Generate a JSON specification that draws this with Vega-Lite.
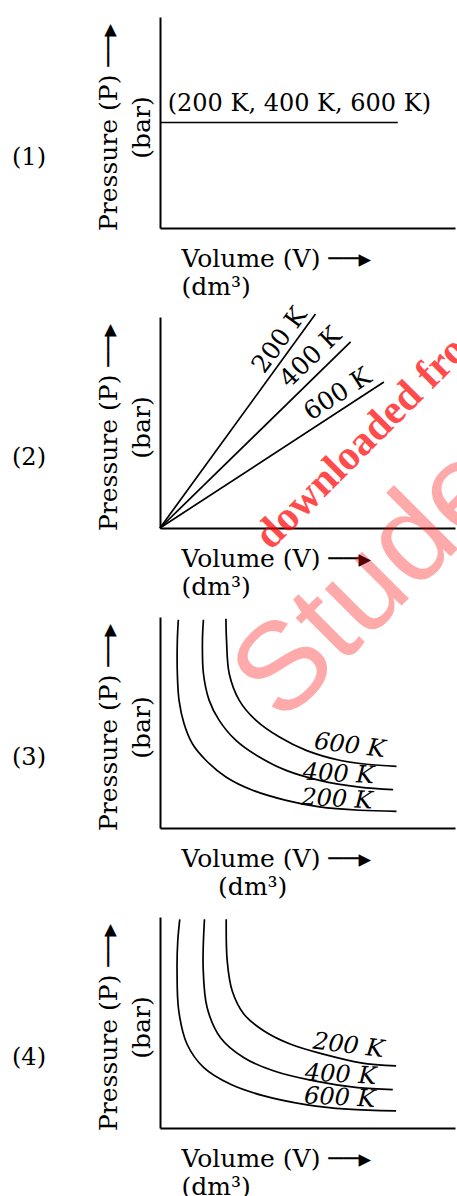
{
  "$schema": "https://vega.github.io/schema/vega-lite/v6.json",
  "padding": {"left": 12, "top": 17, "right": 0, "bottom": 0},
  "background": "white",
  "spacing": 89,
  "bounds": "flush",
  "config": {
    "view": {"stroke": null},
    "font": "DejaVu Serif",
    "axis": {"domainColor": "black", "domainWidth": 2, "ticks": false, "labels": false, "grid": false, "titleFont": "DejaVu Serif", "titleFontSize": 25, "titleFontWeight": "normal", "titleColor": "black"},
    "title": {"font": "DejaVu Serif", "fontSize": 24, "fontWeight": "normal", "color": "black", "orient": "left", "angle": 0, "align": "right", "baseline": "middle", "anchor": "middle", "frame": "group", "offset": 33, "dy": 23},
    "line": {"color": "black", "strokeWidth": 1.7},
    "text": {"font": "DejaVu Serif", "fontSize": 24, "color": "black"}
  },
  "vconcat": [
    {
      "width": 295, "height": 211,
      "title": {"text": "(1)"},
      "encoding": {
        "x": {"field": "V", "type": "quantitative", "scale": {"domain": [0, 100], "nice": false, "zero": false},
              "axis": {"title": ["Volume (V) \u2500\u2500\u25b8", "(dm\u00b3)"], "titleAnchor": "start", "titleAlign": "left", "titleX": 21, "titlePadding": 18, "titleLineHeight": 28}},
        "y": {"field": "P", "type": "quantitative", "scale": {"domain": [0, 100], "nice": false, "zero": false},
              "axis": {"title": ["Pressure (P) \u2500\u2500\u25b8", "(bar)\u00a0\u00a0\u00a0\u00a0\u00a0\u00a0\u00a0\u00a0\u00a0"], "titleAlign": "center", "titleY": 110, "titlePadding": 6, "titleLineHeight": 33}}
      },
      "layer": [
        {"data": {"values": [{"V": 0, "P": 50}, {"V": 80.6, "P": 50}]}, "mark": {"type": "line"}},
        {"data": {"values": [{"V": 2.6, "P": 55.5, "label": "(200 K, 400 K, 600 K)"}]},
         "mark": {"type": "text", "align": "left", "baseline": "alphabetic", "fontSize": 24},
         "encoding": {"text": {"field": "label"}}}
      ]
    },
    {
      "width": 295, "height": 211,
      "title": {"text": "(2)"},
      "encoding": {
        "x": {"field": "V", "type": "quantitative", "scale": {"domain": [0, 100], "nice": false, "zero": false},
              "axis": {"title": ["Volume (V) \u2500\u2500\u25b8", "(dm\u00b3)"], "titleAnchor": "start", "titleAlign": "left", "titleX": 21, "titlePadding": 18, "titleLineHeight": 28}},
        "y": {"field": "P", "type": "quantitative", "scale": {"domain": [0, 100], "nice": false, "zero": false},
              "axis": {"title": ["Pressure (P) \u2500\u2500\u25b8", "(bar)\u00a0\u00a0\u00a0\u00a0\u00a0\u00a0\u00a0\u00a0\u00a0"], "titleAlign": "center", "titleY": 110, "titlePadding": 6, "titleLineHeight": 33}}
      },
      "layer": [
        {"data": {"values": [
          {"T": "200 K", "V": 0, "P": 0}, {"T": "200 K", "V": 52.7, "P": 101.4},
          {"T": "400 K", "V": 0, "P": 0}, {"T": "400 K", "V": 64.6, "P": 88.2},
          {"T": "600 K", "V": 0, "P": 0}, {"T": "600 K", "V": 75.9, "P": 69.2}]},
         "mark": {"type": "line"}, "encoding": {"detail": {"field": "T"}}},
        {"data": {"values": [{"V": 40.5, "P": 89.1, "label": "200 K"}]},
         "mark": {"type": "text", "angle": -54, "align": "center", "baseline": "middle", "fontSize": 25}, "encoding": {"text": {"field": "label"}}},
        {"data": {"values": [{"V": 51.0, "P": 81.0, "label": "400 K"}]},
         "mark": {"type": "text", "angle": -44, "align": "center", "baseline": "middle", "fontSize": 25}, "encoding": {"text": {"field": "label"}}},
        {"data": {"values": [{"V": 60.2, "P": 63.5, "label": "600 K"}]},
         "mark": {"type": "text", "angle": -33, "align": "center", "baseline": "middle", "fontSize": 25}, "encoding": {"text": {"field": "label"}}},
        {"data": {"values": [{"V": 37.6, "P": -10.9, "label": "downloaded fro"}]},
         "mark": {"type": "text", "angle": -45, "align": "left", "baseline": "alphabetic", "font": "Liberation Sans Narrow", "fontWeight": "bold", "fontSize": 42, "color": "#ff0000", "opacity": 0.7},
         "encoding": {"text": {"field": "label"}}}
      ]
    },
    {
      "width": 295, "height": 211,
      "title": {"text": "(3)"},
      "encoding": {
        "x": {"field": "V", "type": "quantitative", "scale": {"domain": [0, 100], "nice": false, "zero": false},
              "axis": {"title": ["Volume (V) \u2500\u2500\u25b8", "\u2800\u2800(dm\u00b3)"], "titleAnchor": "start", "titleAlign": "left", "titleX": 21, "titlePadding": 18, "titleLineHeight": 28}},
        "y": {"field": "P", "type": "quantitative", "scale": {"domain": [0, 100], "nice": false, "zero": false},
              "axis": {"title": ["Pressure (P) \u2500\u2500\u25b8", "(bar)\u00a0\u00a0\u00a0\u00a0\u00a0\u00a0\u00a0\u00a0\u00a0"], "titleAlign": "center", "titleY": 110, "titlePadding": 6, "titleLineHeight": 33}}
      },
      "layer": [
        {"data": {"values": [
          {"T": "200 K", "i": 0, "V": 6.22, "P": 98.7}, {"T": "200 K", "i": 1, "V": 5.88, "P": 89.0}, {"T": "200 K", "i": 2, "V": 5.88, "P": 73.2},
          {"T": "200 K", "i": 3, "V": 6.46, "P": 60.5}, {"T": "200 K", "i": 4, "V": 8.16, "P": 49.4}, {"T": "200 K", "i": 5, "V": 10.99, "P": 39.9},
          {"T": "200 K", "i": 6, "V": 15.54, "P": 32.1}, {"T": "200 K", "i": 7, "V": 22.35, "P": 24.2}, {"T": "200 K", "i": 8, "V": 31.39, "P": 17.9},
          {"T": "200 K", "i": 9, "V": 42.76, "P": 13.1}, {"T": "200 K", "i": 10, "V": 54.08, "P": 10.0}, {"T": "200 K", "i": 11, "V": 67.69, "P": 8.4},
          {"T": "200 K", "i": 12, "V": 80.17, "P": 7.9},
          {"T": "400 K", "i": 0, "V": 14.73, "P": 98.7}, {"T": "400 K", "i": 1, "V": 14.39, "P": 89.0}, {"T": "400 K", "i": 2, "V": 14.73, "P": 73.1},
          {"T": "400 K", "i": 3, "V": 16.67, "P": 60.5}, {"T": "400 K", "i": 4, "V": 20.07, "P": 51.0}, {"T": "400 K", "i": 5, "V": 25.75, "P": 41.5},
          {"T": "400 K", "i": 6, "V": 33.67, "P": 33.6}, {"T": "400 K", "i": 7, "V": 42.76, "P": 27.3}, {"T": "400 K", "i": 8, "V": 54.08, "P": 22.6},
          {"T": "400 K", "i": 9, "V": 67.69, "P": 19.4}, {"T": "400 K", "i": 10, "V": 79.01, "P": 18.2},
          {"T": "600 K", "i": 0, "V": 22.35, "P": 99.2}, {"T": "600 K", "i": 1, "V": 22.55, "P": 89.0}, {"T": "600 K", "i": 2, "V": 23.47, "P": 73.1},
          {"T": "600 K", "i": 3, "V": 26.87, "P": 60.5}, {"T": "600 K", "i": 4, "V": 32.55, "P": 51.0}, {"T": "600 K", "i": 5, "V": 40.48, "P": 43.1},
          {"T": "600 K", "i": 6, "V": 49.56, "P": 36.8}, {"T": "600 K", "i": 7, "V": 60.88, "P": 32.1}, {"T": "600 K", "i": 8, "V": 69.97, "P": 30.2},
          {"T": "600 K", "i": 9, "V": 80.17, "P": 29.2}]},
         "mark": {"type": "line", "interpolate": "catmull-rom"},
         "encoding": {"detail": {"field": "T"}, "order": {"field": "i", "type": "quantitative"}}},
        {"data": {"values": [{"V": 64.3, "P": 38.9, "label": "600 K"}]},
         "mark": {"type": "text", "angle": 7, "align": "center", "baseline": "middle", "fontStyle": "italic"}, "encoding": {"text": {"field": "label"}}},
        {"data": {"values": [{"V": 60.5, "P": 25.4, "label": "400 K"}, {"V": 60.0, "P": 13.5, "label": "200 K"}]},
         "mark": {"type": "text", "angle": 3, "align": "center", "baseline": "middle", "fontStyle": "italic"}, "encoding": {"text": {"field": "label"}}},
        {"data": {"values": [{"V": 41.4, "P": 48.8, "label": "Stude"}]},
         "mark": {"type": "text", "angle": -45, "align": "left", "baseline": "alphabetic", "font": "Liberation Sans", "fontSize": 125, "color": "#ff0000", "opacity": 0.33},
         "encoding": {"text": {"field": "label"}}}
      ]
    },
    {
      "width": 295, "height": 211,
      "title": {"text": "(4)"},
      "encoding": {
        "x": {"field": "V", "type": "quantitative", "scale": {"domain": [0, 100], "nice": false, "zero": false},
              "axis": {"title": ["Volume (V) \u2500\u2500\u25b8", "(dm\u00b3)"], "titleAnchor": "start", "titleAlign": "left", "titleX": 21, "titlePadding": 18, "titleLineHeight": 28}},
        "y": {"field": "P", "type": "quantitative", "scale": {"domain": [0, 100], "nice": false, "zero": false},
              "axis": {"title": ["Pressure (P) \u2500\u2500\u25b8", "(bar)\u00a0\u00a0\u00a0\u00a0\u00a0\u00a0\u00a0\u00a0\u00a0"], "titleAlign": "center", "titleY": 110, "titlePadding": 6, "titleLineHeight": 33}}
      },
      "layer": [
        {"data": {"values": [
          {"T": "600 K", "i": 0, "V": 6.70, "P": 98.9}, {"T": "600 K", "i": 1, "V": 6.02, "P": 88.6}, {"T": "600 K", "i": 2, "V": 5.78, "P": 76.0},
          {"T": "600 K", "i": 3, "V": 6.36, "P": 55.5}, {"T": "600 K", "i": 4, "V": 9.18, "P": 39.7}, {"T": "600 K", "i": 5, "V": 14.86, "P": 28.6},
          {"T": "600 K", "i": 6, "V": 23.91, "P": 20.7}, {"T": "600 K", "i": 7, "V": 35.27, "P": 15.2}, {"T": "600 K", "i": 8, "V": 48.88, "P": 11.2},
          {"T": "600 K", "i": 9, "V": 63.61, "P": 8.9}, {"T": "600 K", "i": 10, "V": 80.03, "P": 8.1},
          {"T": "400 K", "i": 0, "V": 15.07, "P": 98.9}, {"T": "400 K", "i": 1, "V": 14.63, "P": 76.0}, {"T": "400 K", "i": 2, "V": 15.99, "P": 57.0},
          {"T": "400 K", "i": 3, "V": 20.51, "P": 42.8}, {"T": "400 K", "i": 4, "V": 28.47, "P": 33.3}, {"T": "400 K", "i": 5, "V": 38.67, "P": 27.0},
          {"T": "400 K", "i": 6, "V": 52.28, "P": 22.3}, {"T": "400 K", "i": 7, "V": 67.01, "P": 19.1}, {"T": "400 K", "i": 8, "V": 78.91, "P": 18.2},
          {"T": "200 K", "i": 0, "V": 22.45, "P": 98.9}, {"T": "200 K", "i": 1, "V": 22.79, "P": 79.1}, {"T": "200 K", "i": 2, "V": 24.49, "P": 64.9},
          {"T": "200 K", "i": 3, "V": 28.47, "P": 53.9}, {"T": "200 K", "i": 4, "V": 35.27, "P": 46.0}, {"T": "200 K", "i": 5, "V": 44.32, "P": 39.7},
          {"T": "200 K", "i": 6, "V": 55.68, "P": 34.9}, {"T": "200 K", "i": 7, "V": 68.13, "P": 30.9}, {"T": "200 K", "i": 8, "V": 80.03, "P": 29.4}]},
         "mark": {"type": "line", "interpolate": "catmull-rom"},
         "encoding": {"detail": {"field": "T"}, "order": {"field": "i", "type": "quantitative"}}},
        {"data": {"values": [{"V": 63.9, "P": 38.9, "label": "200 K"}]},
         "mark": {"type": "text", "angle": 7, "align": "center", "baseline": "middle", "fontStyle": "italic"}, "encoding": {"text": {"field": "label"}}},
        {"data": {"values": [{"V": 61.2, "P": 25.1, "label": "400 K"}, {"V": 60.9, "P": 14.2, "label": "600 K"}]},
         "mark": {"type": "text", "angle": 3, "align": "center", "baseline": "middle", "fontStyle": "italic"}, "encoding": {"text": {"field": "label"}}}
      ]
    }
  ]
}
